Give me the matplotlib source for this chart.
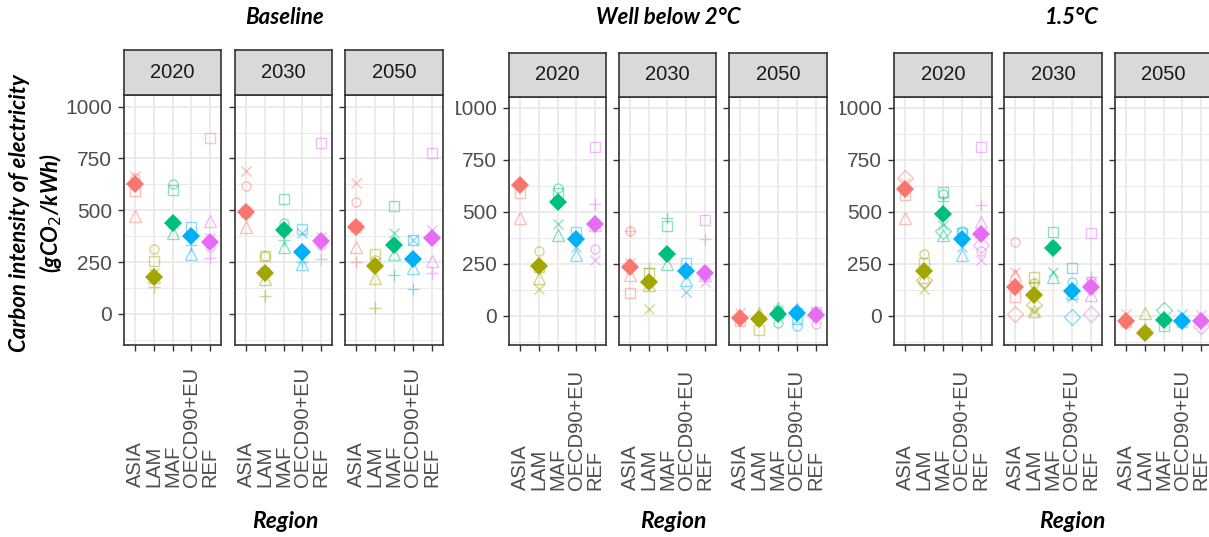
import numpy as np
import matplotlib.pyplot as plt
import matplotlib.transforms as mtransforms

nan = np.nan

# ====== DATA ======
REGIONS = ["ASIA", "LAM", "MAF", "OECD90+EU", "REF"]
YEARS = ["2020", "2030", "2050"]
SCENARIOS = ["Baseline", "Well below 2°C", "1.5°C"]
COLORS = ["#F8766D", "#A3A500", "#00BF7D", "#00B0F6", "#E76BF3"]

# hodnoty modelů podle regionu (ASIA, LAM, MAF, OECD90+EU, REF), gCO2/kWh
BASE_2020 = {
    "square":   [595, 257, 598, 418, 847],
    "circle":   [654, 312, 625, nan, 321],
    "triangle": [474, 177, 389, 289, 449],
    "plus":     [nan, 132, nan, 330, 268],
    "cross":    [665, 196, 440, nan, 365],
    "mean":     [627, 177, 440, 378, 349],
}
BASE_2030 = {
    "square":   [494, 277, 553, 408, 823],
    "circle":   [617, 277, 440, nan, 330],
    "triangle": [421, 167, 325, 241, nan],
    "plus":     [nan, 85, 357, 252, 265],
    "cross":    [690, 204, 405, 389, 373],
    "mean":     [490, 199, 403, 301, 354],
}
BASE_2050 = {
    "square":   [418, 288, 521, 357, 775],
    "circle":   [542, 260, nan, nan, nan],
    "triangle": [325, 175, 288, 220, 257],
    "plus":     [248, 27, 188, 121, 196],
    "cross":    [630, nan, 389, 357, 405],
    "mean":     [421, 230, 330, 264, 368],
}
WB2_2020 = {
    "square":   [590, 237, 590, 402, 814],
    "circle":   [nan, 312, 614, nan, 322],
    "triangle": [470, 184, 389, 293, 438],
    "plus":     [638, nan, nan, nan, 537],
    "cross":    [nan, 130, 441, 333, 269],
    "mean":     [630, 242, 546, 370, 441],
}
WB2_2030 = {
    "square":   [109, 205, 433, 253, 462],
    "circle":   [409, nan, nan, nan, nan],
    "triangle": [197, 149, 248, 173, 197],
    "plus":     [409, 229, 470, nan, 369],
    "cross":    [253, 32, nan, 117, 162],
    "mean":     [236, 165, 296, 216, 205],
}
WB2_2050 = {
    "square":   [-24, -67, 15, -16, 21],
    "circle":   [nan, nan, -35, -51, -40],
    "triangle": [nan, 13, 37, nan, nan],
    "plus":     [nan, nan, nan, 40, nan],
    "cross":    [13, nan, 30, nan, 15],
    "mean":     [-8, -14, 10, 13, 5],
}
P15_2020 = {
    "square":   [582, 253, 593, 397, 814],
    "circle":   [nan, 296, 585, 406, 311],
    "triangle": [470, 189, 389, 293, 449],
    "plus":     [nan, nan, 550, nan, 534],
    "cross":    [638, 130, 438, 333, 269],
    "diamond":  [662, 173, 406, nan, 343],
    "mean":     [609, 216, 490, 370, 393],
}
P15_2030 = {
    "square":   [93, 185, 405, 232, 397],
    "circle":   [353, 160, 343, 165, 170],
    "triangle": [197, 24, 189, 110, 101],
    "plus":     [nan, 157, nan, nan, 189],
    "cross":    [213, 24, 213, 93, 160],
    "diamond":  [10, 50, nan, -6, 10],
    "mean":     [141, 101, 324, 120, 138],
}
P15_2050 = {
    "square":   [-30, nan, -51, -30, nan],
    "triangle": [nan, 13, nan, nan, nan],
    "plus":     [nan, -59, nan, nan, nan],
    "cross":    [10, nan, nan, 8, 5],
    "diamond":  [nan, nan, 29, nan, -51],
    "mean":     [-24, -80, -19, -27, -24],
}

PANELS = [
    [BASE_2020, BASE_2030, BASE_2050],
    [WB2_2020, WB2_2030, WB2_2050],
    [P15_2020, P15_2030, P15_2050],
]

MARKERS = {"square": "s", "circle": "o", "triangle": "^",
           "plus": "+", "cross": "x", "diamond": "D"}
MSIZE = {"square": 7, "circle": 6.5, "triangle": 8, "plus": 8.5,
         "cross": 7, "diamond": 8}

# ====== LAYOUT (px) ======
W, H = 1209, 537
GROUP_X = [
    [(124, 221), (235, 332), (345, 443)],
    [(509, 606), (619, 716), (729, 827)],
    [(894, 992), (1004, 1102), (1115, 1212)],
]
STRIP_TOP = [50, 53, 53]
PANEL_TOP = [95, 97, 97]
PANEL_BOT = 345
YLIMS = [(-150, 1056), (-140, 1052), (-140, 1052)]
LABEL_BOTTOM = [487, 490, 490]
TITLE_X = [285, 668, 1072]
XLAB_X = [285, 673, 1072]
# levý okraj obrázků skupin (popisek 1000 je tam oříznutý)
GROUP_CLIP = [0, 456, 840]

TXT = "#4D4D4D"
FRAME = "#333333"
GRID = "#EBEBEB"
FONT = "Liberation Sans"
TFONT = ["Lato", "DejaVu Sans"]


def px_rect(x0, x1, top, bot):
    return [x0 / W, 1 - bot / H, (x1 - x0) / W, (bot - top) / H]


def draw_panel(fig, g, j, vals):
    x0, x1 = GROUP_X[g][j]
    ax = fig.add_axes(px_rect(x0, x1, PANEL_TOP[g], PANEL_BOT))
    ax.set_xlim(0.4, 5.6)
    ax.set_ylim(*YLIMS[g])
    ax.set_facecolor("white")
    ax.set_axisbelow(True)

    ax.set_yticks([0, 250, 500, 750, 1000])
    ax.set_yticks([-125, 125, 375, 625, 875], minor=True)
    ax.set_xticks(range(1, 6))
    ax.grid(True, which="major", color=GRID, linewidth=1.4)
    ax.grid(True, which="minor", axis="y", color=GRID, linewidth=0.8)
    for s in ax.spines.values():
        s.set_color(FRAME)
        s.set_linewidth(1.2)
    ax.tick_params(axis="both", which="major", length=4.5, width=1.0, color=FRAME,
                   labelsize=15, labelcolor=TXT, pad=4)
    ax.tick_params(axis="y", which="minor", length=0)
    ax.set_xticklabels([])
    if j == 0:
        ax.set_yticklabels(["0", "250", "500", "750", "1000"], fontfamily=FONT)
        clip = mtransforms.Bbox.from_extents(GROUP_CLIP[g], 0, W, H)
        for lab in ax.get_yticklabels():
            lab.set_clip_box(clip)
            lab.set_clip_on(True)
    else:
        ax.set_yticklabels([])

    xs = np.arange(1, 6)
    for key, marker in MARKERS.items():
        if key not in vals:
            continue
        y = np.array(vals[key], dtype=float)
        for i in range(5):
            if np.isnan(y[i]):
                continue
            ax.plot(xs[i], y[i], linestyle="none", marker=marker,
                    markersize=MSIZE[key], markerfacecolor="none",
                    markeredgecolor=COLORS[i], markeredgewidth=1.0, alpha=0.45)
    for i in range(5):
        ax.plot(xs[i], vals["mean"][i], linestyle="none", marker="D",
                markersize=9, color=COLORS[i], markeredgewidth=0)

    # popisky regionů, zarovnané od spodu
    trans = mtransforms.blended_transform_factory(ax.transData, fig.transFigure)
    for i, reg in enumerate(REGIONS):
        ax.text(xs[i], 1 - LABEL_BOTTOM[g] / H, reg, rotation=90, ha="center",
                va="bottom", fontsize=14.5, color=TXT, fontfamily=FONT,
                transform=trans)

    # strip
    sax = fig.add_axes(px_rect(x0, x1, STRIP_TOP[g], PANEL_TOP[g]))
    sax.set_facecolor("#D9D9D9")
    sax.set_xticks([])
    sax.set_yticks([])
    for s in sax.spines.values():
        s.set_color(FRAME)
        s.set_linewidth(1.2)
    sax.text(0.5, 0.5, YEARS[j], ha="center", va="center", fontsize=14.5,
             color="#1A1A1A", fontfamily=FONT, transform=sax.transAxes)
    return ax


fig = plt.figure(figsize=(W / 100, H / 100), dpi=100)

for g in range(3):
    for j in range(3):
        draw_panel(fig, g, j, PANELS[g][j])
    fig.text(TITLE_X[g] / W, 1 - 18 / H, SCENARIOS[g], ha="center", va="center",
             fontsize=16, fontweight="bold", fontstyle="italic", family=TFONT)
    fig.text(XLAB_X[g] / W, 1 - 522 / H, "Region", ha="center", va="center",
             fontsize=16.5, fontweight="bold", fontstyle="italic", family=TFONT)

fig.text(20 / W, 1 - 213 / H, "Carbon intensity of electricity", rotation=90,
         ha="center", va="center", fontsize=16, fontweight="bold",
         fontstyle="italic", family=TFONT)
fig.text(50 / W, 1 - 213 / H, r"(gCO$_2$/kWh)", rotation=90,
         ha="center", va="center", fontsize=16, fontweight="bold",
         fontstyle="italic", family=TFONT)

fig.savefig("out.png", dpi=100)
